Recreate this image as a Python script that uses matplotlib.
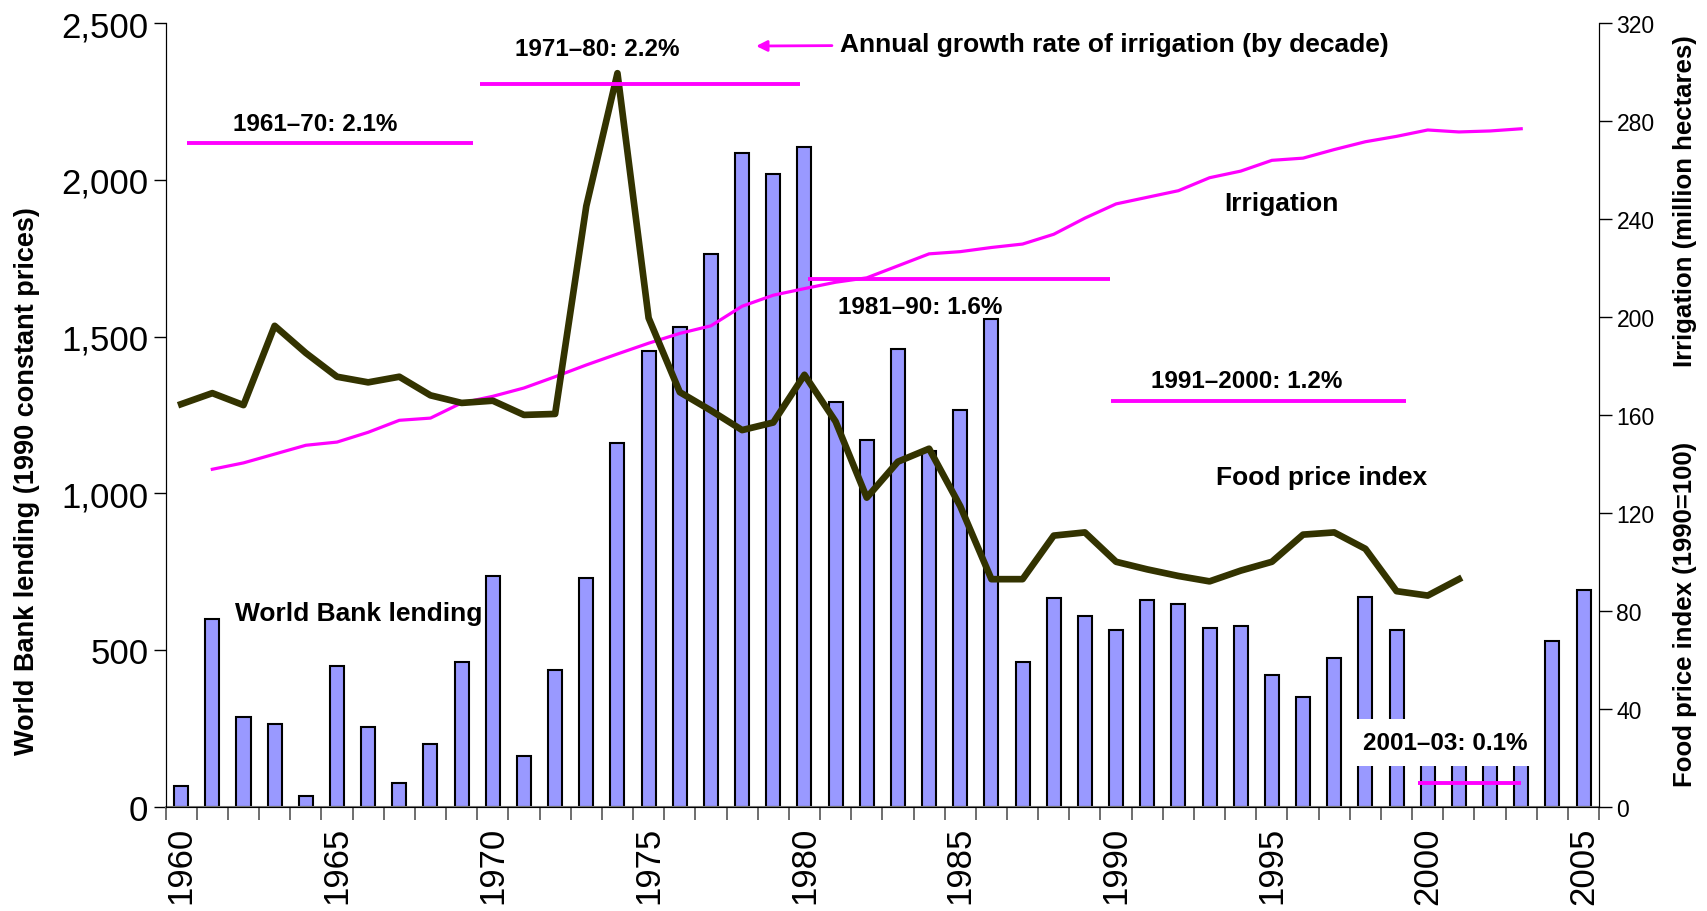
#!/usr/bin/env python
# -*- coding: utf-8 -*-

import matplotlib
matplotlib.use('Agg')
import matplotlib.pyplot as plt

# 年份
years = list(range(1960, 2006))

# 世界银行贷款 (左轴, 1990 不变价)
lending = [65, 600, 285, 265, 35, 450, 255, 75, 200, 460,
           735, 160, 435, 730, 1160, 1455, 1530, 1765, 2085, 2020,
           2105, 1290, 1170, 1460, 1135, 1265, 1555, 460, 665, 607,
           565, 660, 645, 570, 575, 420, 350, 475, 670, 565,
           200, 240, 210, 250, 530, 690]

# 灌溉面积 (右轴, 百万公顷) 1961-2003
irr_years = list(range(1961, 2004))
irrigation = [137.8, 140.4, 144.0, 147.6, 148.9, 152.9, 157.8, 158.7, 164.9, 167.6,
              171.0, 175.6, 180.4, 184.9, 189.3, 193.3, 196.4, 204.4, 208.9, 211.6,
              214.2, 216.0, 220.9, 225.8, 226.7, 228.4, 229.8, 233.8, 240.4, 246.2,
              248.9, 251.6, 256.9, 259.6, 264.0, 264.9, 268.4, 271.6, 273.8, 276.4,
              275.6, 276.0, 276.9]

# 食品价格指数 (右轴, 1990=100) 1960-2001
food_years = list(range(1960, 2002))
food_price = [164.4, 168.9, 164.0, 196.4, 185.3, 175.6, 173.3, 175.6, 168.0, 164.9,
              165.8, 160.0, 160.4, 245.3, 299.6, 199.6, 169.3, 161.8, 153.8, 156.9,
              176.4, 157.3, 126.2, 140.9, 146.2, 122.7, 92.9, 92.9, 110.7, 112.0,
              100.0, 96.9, 94.2, 92.0, 96.4, 100.0, 111.1, 112.0, 105.3, 88.0,
              86.2, 92.9]

# 每十年灌溉年增长率
decade_labels = ['1961\u201370: 2.1%', '1971\u201380: 2.2%', '1981\u201390: 1.6%',
                 '1991\u20132000: 1.2%', '2001\u201303: 0.1%']
decade_start = [1960.2, 1969.6, 1980.1, 1989.85, 1999.7]
decade_end = [1969.35, 1979.85, 1989.8, 1999.3, 2003.0]
decade_level = [271.1, 295.1, 215.6, 165.8, 9.8]

plt.rcParams['font.family'] = ['Liberation Sans', 'DejaVu Sans']

fig = plt.figure(figsize=(17.07, 9.12), dpi=100)
ax = fig.add_axes([0.0970, 0.1145, 0.8398, 0.8589])

# 柱状图
ax.bar(years, lending, width=0.45, color='#9999FF', edgecolor='black', linewidth=1.5, zorder=2)
ax.set_xlim(1959.5, 2005.5)
ax.set_ylim(0, 2500)
ax.set_yticks(range(0, 2501, 500))
ax.set_yticklabels(['{:,}'.format(v) for v in range(0, 2501, 500)], fontsize=25)
ax.set_xticks(range(1960, 2006, 5))
ax.set_xticklabels([str(y) for y in range(1960, 2006, 5)], rotation=90, fontsize=25)
ax.set_xticks([y - 0.5 for y in range(1960, 2007)], minor=True)
ax.tick_params(axis='x', which='major', length=0, pad=14)
ax.tick_params(axis='x', which='minor', length=9, color='#555555', width=1.2)
ax.tick_params(axis='y', length=9, width=1.0)
ax.spines['top'].set_visible(False)
ax.spines['bottom'].set_color('#777777')
ax.spines['bottom'].set_linewidth(1.5)

# 右轴: 灌溉和食品价格
ax2 = ax.twinx()
ax2.set_ylim(0, 320)
ax2.set_yticks(range(0, 321, 40))
ax2.tick_params(axis='y', labelsize=16.5, length=9, width=1.0)
ax2.spines['top'].set_visible(False)
ax2.plot(irr_years, irrigation, color='#FF00FF', linewidth=2.3, zorder=3)
ax2.plot(food_years, food_price, color='#333300', linewidth=4.8, zorder=4)

# 十年增长率线段
for x0, x1, lv in zip(decade_start, decade_end, decade_level):
    ax2.plot([x0, x1], [lv, lv], color='#FF00FF', linewidth=2.8, solid_capstyle='butt', zorder=5)

dec_kw = dict(fontsize=17.5, fontweight='bold', ha='center', va='center', zorder=6)
ax2.text(1964.3, 279.0, decade_labels[0], **dec_kw)
ax2.text(1973.35, 309.8, decade_labels[1], **dec_kw)
ax2.text(1983.7, 204.4, decade_labels[2], **dec_kw)
ax2.text(1994.2, 174.2, decade_labels[3], **dec_kw)
ax2.text(2000.57, 26.2, decade_labels[4],
         bbox=dict(facecolor='white', edgecolor='none', pad=9), **dec_kw)

name_kw = dict(fontsize=19, fontweight='bold', ha='center', va='center', zorder=6)
ax2.text(1995.3, 246.7, 'Irrigation', **name_kw)
ax2.text(1996.6, 134.7, 'Food price index', **name_kw)
ax2.text(1965.7, 79.1, 'World Bank lending', **name_kw)

# 箭头注释
ax2.annotate('Annual growth rate of irrigation (by decade)', xy=(1978.45, 310.7), xytext=(1981.15, 311.5),
             fontsize=19, fontweight='bold', ha='left', va='center',
             arrowprops=dict(arrowstyle='-|>', color='#FF00FF', lw=2, mutation_scale=16,
                             shrinkA=4, shrinkB=0))

# 轴标签
fig.text(0.016, 0.472, 'World Bank lending (1990 constant prices)', rotation=90, fontsize=19.5,
         fontweight='bold', ha='center', va='center')
fig.text(0.987, 0.779, 'Irrigation (million hectares)', rotation=90, fontsize=18.5,
         fontweight='bold', ha='center', va='center')
fig.text(0.987, 0.326, 'Food price index (1990=100)', rotation=90, fontsize=18.5,
         fontweight='bold', ha='center', va='center')

fig.savefig('out.png', dpi=100)
